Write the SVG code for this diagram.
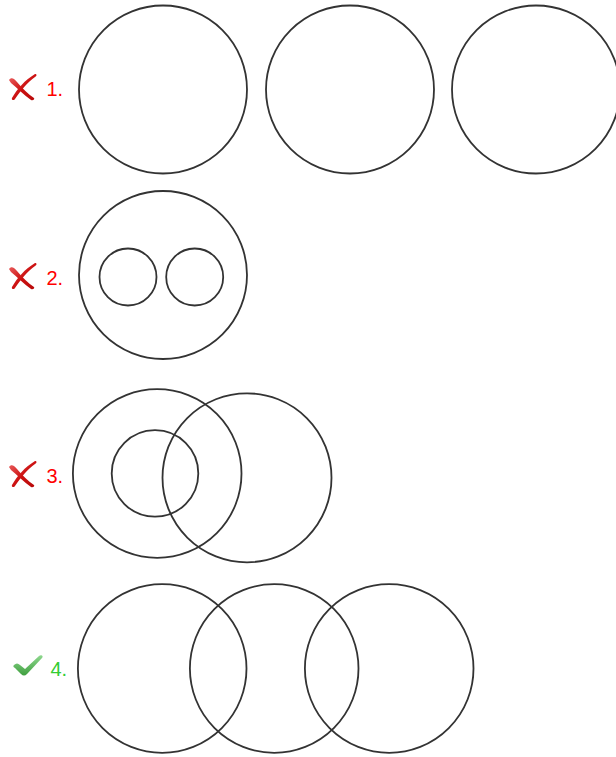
<svg xmlns="http://www.w3.org/2000/svg" width="616" height="757" viewBox="0 0 616 757">
<style>
.c{fill:none;stroke:#333;stroke-width:1.8}
.lbl{font-family:"Liberation Sans",Arial,sans-serif;font-size:20px}
.bad{fill:#f00}
.good{fill:#3c3}
</style>
<defs>
<linearGradient id="rg" x1="0" y1="0" x2="1" y2="1">
<stop offset="0" stop-color="#e85a5a"/>
<stop offset="0.5" stop-color="#cc1111"/>
<stop offset="1" stop-color="#b80a0a"/>
</linearGradient>
<linearGradient id="gg" x1="0" y1="0" x2="0" y2="1">
<stop offset="0" stop-color="#8fd88f"/>
<stop offset="1" stop-color="#3f9f3f"/>
</linearGradient>
<g id="xicon">
<path d="M1,7 C3,4 6,5 9,9 C14,15 20,21 26,25 C27,26 25,28 23,27 C16,22 9,15 3,10 Z" fill="url(#rg)"/>
<path d="M27,1 C29,1 29,3 27,4 C20,9 13,17 7,26 C6,28 3,27 4,25 C9,16 17,7 27,1 Z" fill="url(#rg)"/>
</g>
<g id="check">
<path d="M1,11 C3,9 5,9 7,11 L12,15 L26,2 C28,0 31,2 29,4 L14,20 C12,22 10,22 8,20 L2,14 C0,13 0,12 1,11 Z" fill="url(#gg)"/>
</g>
</defs>
<rect width="616" height="757" fill="#fff"/>
<g id="row1">
<use href="#xicon" x="8" y="73"/>
<text class="lbl bad" x="46.5" y="96">1.</text>
<circle id="r1c1" class="c" cx="163" cy="89.5" r="84"/>
<circle id="r1c2" class="c" cx="350" cy="89.5" r="84"/>
<circle id="r1c3" class="c" cx="536" cy="89.5" r="84"/>
</g>
<g id="row2">
<use href="#xicon" x="8" y="262"/>
<text class="lbl bad" x="46.5" y="285">2.</text>
<circle id="r2big" class="c" cx="163" cy="275" r="84"/>
<circle id="r2s1" class="c" cx="128" cy="277" r="28.5"/>
<circle id="r2s2" class="c" cx="194.7" cy="277" r="28.5"/>
</g>
<g id="row3">
<use href="#xicon" x="8" y="460"/>
<text class="lbl bad" x="46.5" y="483">3.</text>
<circle id="r3a" class="c" cx="157.2" cy="473.5" r="84.3"/>
<circle id="r3b" class="c" cx="247" cy="477.8" r="84.5"/>
<circle id="r3s" class="c" cx="155" cy="473.4" r="43.3"/>
</g>
<g id="row4">
<use href="#check" x="13" y="654"/>
<text class="lbl good" x="50.5" y="676">4.</text>
<circle id="r4c1" class="c" cx="162.2" cy="668.5" r="84.3"/>
<circle id="r4c2" class="c" cx="274.2" cy="668.5" r="84.3"/>
<circle id="r4c3" class="c" cx="389.2" cy="668.5" r="84.3"/>
</g>
</svg>
